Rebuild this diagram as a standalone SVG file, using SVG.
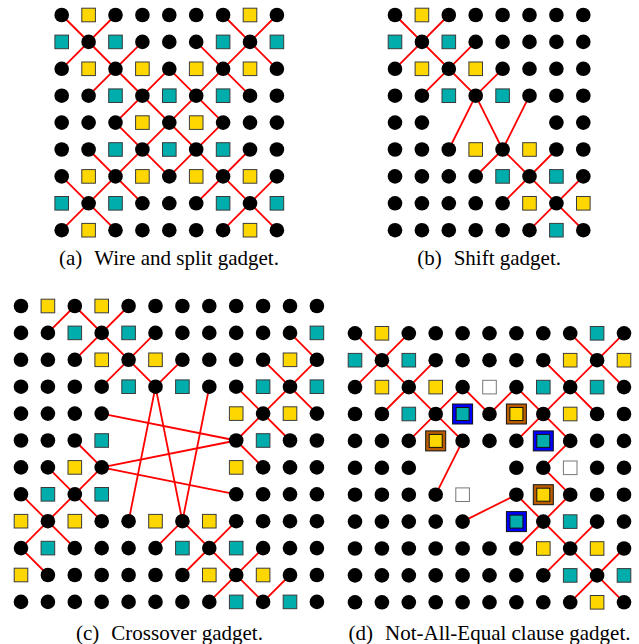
<svg xmlns="http://www.w3.org/2000/svg" xmlns:xlink="http://www.w3.org/1999/xlink" width="639" height="644" viewBox="0 0 639 644">
<style>
.e{stroke:#FF0000;stroke-width:1.8;fill:none;stroke-linecap:round;stroke-linejoin:round}
.cap{font-family:"Liberation Serif","Times New Roman",serif;font-size:21px;fill:#000}
</style>
<defs>
<circle id="D" r="7.3" fill="#000"/>
<rect id="Y" x="-6.8" y="-6.8" width="13.6" height="13.6" fill="#FFD700" stroke="#3a3a3a" stroke-width="1"/>
<rect id="T" x="-6.8" y="-6.8" width="13.6" height="13.6" fill="#00ADAD" stroke="#3a3a3a" stroke-width="1"/>
<rect id="W" x="-6.8" y="-6.8" width="13.6" height="13.6" fill="#FFFFFF" stroke="#777" stroke-width="1"/>
<g id="BT"><rect x="-10" y="-10" width="20" height="20" fill="#0000FF" stroke="#111" stroke-width="1"/><rect x="-6.5" y="-6.5" width="13" height="13" fill="#00ADAD" stroke="#111" stroke-width="1"/></g>
<g id="BY"><rect x="-10" y="-10" width="20" height="20" fill="#B85C00" stroke="#111" stroke-width="1"/><rect x="-6.5" y="-6.5" width="13" height="13" fill="#FFD700" stroke="#111" stroke-width="1"/></g>
</defs>
<rect width="639" height="644" fill="#fff"/>

<!-- Panel (a) -->
<g id="panel-a" transform="translate(61.7,15)">
<g id="a-connectors" class="e">
<line x1="0" y1="0" x2="215.2" y2="215.2"/>
<line x1="215.2" y1="0" x2="0" y2="215.2"/>
<line x1="53.8" y1="0" x2="0" y2="53.8"/>
<line x1="80.7" y1="26.9" x2="26.9" y2="80.7"/>
<polygon points="107.6,53.8 53.8,107.6 107.6,161.4 161.4,107.6"/>
<line x1="134.5" y1="26.9" x2="188.3" y2="80.7"/>
<line x1="161.4" y1="0" x2="215.2" y2="53.8"/>
<line x1="26.9" y1="134.5" x2="80.7" y2="188.3"/>
<line x1="0" y1="161.4" x2="53.8" y2="215.2"/>
<line x1="134.5" y1="188.3" x2="188.3" y2="134.5"/>
<line x1="215.2" y1="161.4" x2="161.4" y2="215.2"/>
</g>
<g id="a-nodes">
<use href="#D" x="0" y="0"/><use href="#Y" x="26.9" y="0"/><use href="#D" x="53.8" y="0"/><use href="#D" x="80.7" y="0"/><use href="#D" x="107.6" y="0"/><use href="#D" x="134.5" y="0"/><use href="#D" x="161.4" y="0"/><use href="#Y" x="188.3" y="0"/><use href="#D" x="215.2" y="0"/>
<use href="#T" x="0" y="26.9"/><use href="#D" x="26.9" y="26.9"/><use href="#T" x="53.8" y="26.9"/><use href="#D" x="80.7" y="26.9"/><use href="#D" x="107.6" y="26.9"/><use href="#D" x="134.5" y="26.9"/><use href="#T" x="161.4" y="26.9"/><use href="#D" x="188.3" y="26.9"/><use href="#T" x="215.2" y="26.9"/>
<use href="#D" x="0" y="53.8"/><use href="#Y" x="26.9" y="53.8"/><use href="#D" x="53.8" y="53.8"/><use href="#Y" x="80.7" y="53.8"/><use href="#D" x="107.6" y="53.8"/><use href="#Y" x="134.5" y="53.8"/><use href="#D" x="161.4" y="53.8"/><use href="#Y" x="188.3" y="53.8"/><use href="#D" x="215.2" y="53.8"/>
<use href="#D" x="0" y="80.7"/><use href="#D" x="26.9" y="80.7"/><use href="#T" x="53.8" y="80.7"/><use href="#D" x="80.7" y="80.7"/><use href="#T" x="107.6" y="80.7"/><use href="#D" x="134.5" y="80.7"/><use href="#T" x="161.4" y="80.7"/><use href="#D" x="188.3" y="80.7"/><use href="#D" x="215.2" y="80.7"/>
<use href="#D" x="0" y="107.6"/><use href="#D" x="26.9" y="107.6"/><use href="#D" x="53.8" y="107.6"/><use href="#Y" x="80.7" y="107.6"/><use href="#D" x="107.6" y="107.6"/><use href="#Y" x="134.5" y="107.6"/><use href="#D" x="161.4" y="107.6"/><use href="#D" x="188.3" y="107.6"/><use href="#D" x="215.2" y="107.6"/>
<use href="#D" x="0" y="134.5"/><use href="#D" x="26.9" y="134.5"/><use href="#T" x="53.8" y="134.5"/><use href="#D" x="80.7" y="134.5"/><use href="#T" x="107.6" y="134.5"/><use href="#D" x="134.5" y="134.5"/><use href="#T" x="161.4" y="134.5"/><use href="#D" x="188.3" y="134.5"/><use href="#D" x="215.2" y="134.5"/>
<use href="#D" x="0" y="161.4"/><use href="#Y" x="26.9" y="161.4"/><use href="#D" x="53.8" y="161.4"/><use href="#Y" x="80.7" y="161.4"/><use href="#D" x="107.6" y="161.4"/><use href="#Y" x="134.5" y="161.4"/><use href="#D" x="161.4" y="161.4"/><use href="#Y" x="188.3" y="161.4"/><use href="#D" x="215.2" y="161.4"/>
<use href="#T" x="0" y="188.3"/><use href="#D" x="26.9" y="188.3"/><use href="#T" x="53.8" y="188.3"/><use href="#D" x="80.7" y="188.3"/><use href="#D" x="107.6" y="188.3"/><use href="#D" x="134.5" y="188.3"/><use href="#T" x="161.4" y="188.3"/><use href="#D" x="188.3" y="188.3"/><use href="#T" x="215.2" y="188.3"/>
<use href="#D" x="0" y="215.2"/><use href="#Y" x="26.9" y="215.2"/><use href="#D" x="53.8" y="215.2"/><use href="#D" x="80.7" y="215.2"/><use href="#D" x="107.6" y="215.2"/><use href="#D" x="134.5" y="215.2"/><use href="#D" x="161.4" y="215.2"/><use href="#Y" x="188.3" y="215.2"/><use href="#D" x="215.2" y="215.2"/>
</g>
</g>

<!-- Panel (b) -->
<g id="panel-b" transform="translate(395,15)">
<g id="b-connectors" class="e">
<line x1="0" y1="0" x2="80.7" y2="80.7"/>
<line x1="53.8" y1="0" x2="0" y2="53.8"/>
<line x1="80.7" y1="26.9" x2="26.9" y2="80.7"/>
<line x1="107.6" y1="53.8" x2="80.7" y2="80.7"/>
<line x1="80.7" y1="80.7" x2="53.8" y2="134.5"/>
<line x1="80.7" y1="80.7" x2="107.6" y2="134.5"/>
<line x1="134.5" y1="80.7" x2="107.6" y2="134.5"/>
<line x1="107.6" y1="134.5" x2="188.3" y2="215.2"/>
<line x1="161.4" y1="134.5" x2="107.6" y2="188.3"/>
<line x1="80.7" y1="161.4" x2="107.6" y2="134.5"/>
<line x1="188.3" y1="161.4" x2="134.5" y2="215.2"/>
</g>
<g id="b-nodes">
<use href="#D" x="0" y="0"/><use href="#Y" x="26.9" y="0"/><use href="#D" x="53.8" y="0"/><use href="#D" x="80.7" y="0"/><use href="#D" x="107.6" y="0"/><use href="#D" x="134.5" y="0"/><use href="#D" x="161.4" y="0"/><use href="#D" x="188.3" y="0"/>
<use href="#T" x="0" y="26.9"/><use href="#D" x="26.9" y="26.9"/><use href="#T" x="53.8" y="26.9"/><use href="#D" x="80.7" y="26.9"/><use href="#D" x="107.6" y="26.9"/><use href="#D" x="134.5" y="26.9"/><use href="#D" x="161.4" y="26.9"/><use href="#D" x="188.3" y="26.9"/>
<use href="#D" x="0" y="53.8"/><use href="#Y" x="26.9" y="53.8"/><use href="#D" x="53.8" y="53.8"/><use href="#Y" x="80.7" y="53.8"/><use href="#D" x="107.6" y="53.8"/><use href="#D" x="134.5" y="53.8"/><use href="#D" x="161.4" y="53.8"/><use href="#D" x="188.3" y="53.8"/>
<use href="#D" x="0" y="80.7"/><use href="#D" x="26.9" y="80.7"/><use href="#T" x="53.8" y="80.7"/><use href="#D" x="80.7" y="80.7"/><use href="#T" x="107.6" y="80.7"/><use href="#D" x="134.5" y="80.7"/><use href="#D" x="161.4" y="80.7"/><use href="#D" x="188.3" y="80.7"/>
<use href="#D" x="0" y="107.6"/><use href="#D" x="26.9" y="107.6"/><use href="#D" x="161.4" y="107.6"/><use href="#D" x="188.3" y="107.6"/>
<use href="#D" x="0" y="134.5"/><use href="#D" x="26.9" y="134.5"/><use href="#D" x="53.8" y="134.5"/><use href="#Y" x="80.7" y="134.5"/><use href="#D" x="107.6" y="134.5"/><use href="#Y" x="134.5" y="134.5"/><use href="#D" x="161.4" y="134.5"/><use href="#D" x="188.3" y="134.5"/>
<use href="#D" x="0" y="161.4"/><use href="#D" x="26.9" y="161.4"/><use href="#D" x="53.8" y="161.4"/><use href="#D" x="80.7" y="161.4"/><use href="#T" x="107.6" y="161.4"/><use href="#D" x="134.5" y="161.4"/><use href="#T" x="161.4" y="161.4"/><use href="#D" x="188.3" y="161.4"/>
<use href="#D" x="0" y="188.3"/><use href="#D" x="26.9" y="188.3"/><use href="#D" x="53.8" y="188.3"/><use href="#D" x="80.7" y="188.3"/><use href="#D" x="107.6" y="188.3"/><use href="#Y" x="134.5" y="188.3"/><use href="#D" x="161.4" y="188.3"/><use href="#Y" x="188.3" y="188.3"/>
<use href="#D" x="0" y="215.2"/><use href="#D" x="26.9" y="215.2"/><use href="#D" x="53.8" y="215.2"/><use href="#D" x="80.7" y="215.2"/><use href="#D" x="107.6" y="215.2"/><use href="#D" x="134.5" y="215.2"/><use href="#T" x="161.4" y="215.2"/><use href="#D" x="188.3" y="215.2"/>
</g>
</g>

<!-- Panel (c) -->
<g id="panel-c" transform="translate(21,306)">
<g id="c-connectors" class="e">
<line x1="26.9" y1="26.9" x2="53.8" y2="0"/>
<line x1="53.8" y1="0" x2="134.5" y2="80.7"/>
<line x1="107.6" y1="0" x2="53.8" y2="53.8"/>
<line x1="134.5" y1="26.9" x2="80.7" y2="80.7"/>
<line x1="161.4" y1="53.8" x2="134.5" y2="80.7"/>
<line x1="134.5" y1="80.7" x2="161.4" y2="215.2"/>
<line x1="134.5" y1="80.7" x2="107.6" y2="215.2"/>
<line x1="188.3" y1="80.7" x2="161.4" y2="215.2"/>
<line x1="80.7" y1="107.6" x2="215.2" y2="134.5"/>
<line x1="80.7" y1="161.4" x2="215.2" y2="134.5"/>
<line x1="80.7" y1="161.4" x2="215.2" y2="188.3"/>
<line x1="53.8" y1="134.5" x2="80.7" y2="161.4"/>
<line x1="80.7" y1="161.4" x2="0" y2="242.1"/>
<line x1="26.9" y1="161.4" x2="80.7" y2="215.2"/>
<line x1="0" y1="188.3" x2="53.8" y2="242.1"/>
<line x1="0" y1="242.1" x2="26.9" y2="269"/>
<line x1="269" y1="26.9" x2="295.9" y2="53.8"/>
<line x1="295.9" y1="53.8" x2="215.2" y2="134.5"/>
<line x1="242.1" y1="53.8" x2="295.9" y2="107.6"/>
<line x1="215.2" y1="80.7" x2="269" y2="134.5"/>
<line x1="215.2" y1="134.5" x2="242.1" y2="161.4"/>
<line x1="161.4" y1="215.2" x2="134.5" y2="242.1"/>
<line x1="161.4" y1="215.2" x2="242.1" y2="295.9"/>
<line x1="215.2" y1="215.2" x2="161.4" y2="269"/>
<line x1="242.1" y1="242.1" x2="188.3" y2="295.9"/>
<line x1="242.1" y1="295.9" x2="269" y2="269"/>
</g>
<g id="c-nodes">
<use href="#D" x="0" y="0"/><use href="#Y" x="26.9" y="0"/><use href="#D" x="53.8" y="0"/><use href="#Y" x="80.7" y="0"/><use href="#D" x="107.6" y="0"/><use href="#D" x="134.5" y="0"/><use href="#D" x="161.4" y="0"/><use href="#D" x="188.3" y="0"/><use href="#D" x="215.2" y="0"/><use href="#D" x="242.1" y="0"/><use href="#D" x="269" y="0"/><use href="#D" x="295.9" y="0"/>
<use href="#D" x="0" y="26.9"/><use href="#D" x="26.9" y="26.9"/><use href="#T" x="53.8" y="26.9"/><use href="#D" x="80.7" y="26.9"/><use href="#T" x="107.6" y="26.9"/><use href="#D" x="134.5" y="26.9"/><use href="#D" x="161.4" y="26.9"/><use href="#D" x="188.3" y="26.9"/><use href="#D" x="215.2" y="26.9"/><use href="#D" x="242.1" y="26.9"/><use href="#D" x="269" y="26.9"/><use href="#T" x="295.9" y="26.9"/>
<use href="#D" x="0" y="53.8"/><use href="#D" x="26.9" y="53.8"/><use href="#D" x="53.8" y="53.8"/><use href="#Y" x="80.7" y="53.8"/><use href="#D" x="107.6" y="53.8"/><use href="#Y" x="134.5" y="53.8"/><use href="#D" x="161.4" y="53.8"/><use href="#D" x="188.3" y="53.8"/><use href="#D" x="215.2" y="53.8"/><use href="#D" x="242.1" y="53.8"/><use href="#Y" x="269" y="53.8"/><use href="#D" x="295.9" y="53.8"/>
<use href="#D" x="0" y="80.7"/><use href="#D" x="26.9" y="80.7"/><use href="#D" x="53.8" y="80.7"/><use href="#D" x="80.7" y="80.7"/><use href="#T" x="107.6" y="80.7"/><use href="#D" x="134.5" y="80.7"/><use href="#T" x="161.4" y="80.7"/><use href="#D" x="188.3" y="80.7"/><use href="#D" x="215.2" y="80.7"/><use href="#T" x="242.1" y="80.7"/><use href="#D" x="269" y="80.7"/><use href="#T" x="295.9" y="80.7"/>
<use href="#D" x="0" y="107.6"/><use href="#D" x="26.9" y="107.6"/><use href="#D" x="53.8" y="107.6"/><use href="#D" x="80.7" y="107.6"/><use href="#Y" x="215.2" y="107.6"/><use href="#D" x="242.1" y="107.6"/><use href="#Y" x="269" y="107.6"/><use href="#D" x="295.9" y="107.6"/>
<use href="#D" x="0" y="134.5"/><use href="#D" x="26.9" y="134.5"/><use href="#D" x="53.8" y="134.5"/><use href="#T" x="80.7" y="134.5"/><use href="#D" x="215.2" y="134.5"/><use href="#T" x="242.1" y="134.5"/><use href="#D" x="269" y="134.5"/><use href="#D" x="295.9" y="134.5"/>
<use href="#D" x="0" y="161.4"/><use href="#D" x="26.9" y="161.4"/><use href="#Y" x="53.8" y="161.4"/><use href="#D" x="80.7" y="161.4"/><use href="#Y" x="215.2" y="161.4"/><use href="#D" x="242.1" y="161.4"/><use href="#D" x="269" y="161.4"/><use href="#D" x="295.9" y="161.4"/>
<use href="#D" x="0" y="188.3"/><use href="#T" x="26.9" y="188.3"/><use href="#D" x="53.8" y="188.3"/><use href="#T" x="80.7" y="188.3"/><use href="#D" x="215.2" y="188.3"/><use href="#D" x="242.1" y="188.3"/><use href="#D" x="269" y="188.3"/><use href="#D" x="295.9" y="188.3"/>
<use href="#Y" x="0" y="215.2"/><use href="#D" x="26.9" y="215.2"/><use href="#Y" x="53.8" y="215.2"/><use href="#D" x="80.7" y="215.2"/><use href="#D" x="107.6" y="215.2"/><use href="#Y" x="134.5" y="215.2"/><use href="#D" x="161.4" y="215.2"/><use href="#Y" x="188.3" y="215.2"/><use href="#D" x="215.2" y="215.2"/><use href="#D" x="242.1" y="215.2"/><use href="#D" x="269" y="215.2"/><use href="#D" x="295.9" y="215.2"/>
<use href="#D" x="0" y="242.1"/><use href="#T" x="26.9" y="242.1"/><use href="#D" x="53.8" y="242.1"/><use href="#D" x="80.7" y="242.1"/><use href="#D" x="107.6" y="242.1"/><use href="#D" x="134.5" y="242.1"/><use href="#T" x="161.4" y="242.1"/><use href="#D" x="188.3" y="242.1"/><use href="#T" x="215.2" y="242.1"/><use href="#D" x="242.1" y="242.1"/><use href="#D" x="269" y="242.1"/><use href="#D" x="295.9" y="242.1"/>
<use href="#Y" x="0" y="269"/><use href="#D" x="26.9" y="269"/><use href="#D" x="53.8" y="269"/><use href="#D" x="80.7" y="269"/><use href="#D" x="107.6" y="269"/><use href="#D" x="134.5" y="269"/><use href="#D" x="161.4" y="269"/><use href="#Y" x="188.3" y="269"/><use href="#D" x="215.2" y="269"/><use href="#Y" x="242.1" y="269"/><use href="#D" x="269" y="269"/><use href="#D" x="295.9" y="269"/>
<use href="#D" x="0" y="295.9"/><use href="#D" x="26.9" y="295.9"/><use href="#D" x="53.8" y="295.9"/><use href="#D" x="80.7" y="295.9"/><use href="#D" x="107.6" y="295.9"/><use href="#D" x="134.5" y="295.9"/><use href="#D" x="161.4" y="295.9"/><use href="#D" x="188.3" y="295.9"/><use href="#T" x="215.2" y="295.9"/><use href="#D" x="242.1" y="295.9"/><use href="#T" x="269" y="295.9"/><use href="#D" x="295.9" y="295.9"/>
</g>
</g>

<!-- Panel (d) -->
<g id="panel-d" transform="translate(355,333.3)">
<g id="d-connectors" class="e">
<line x1="0" y1="0" x2="107.6" y2="107.6"/>
<line x1="53.8" y1="0" x2="0" y2="53.8"/>
<line x1="80.7" y1="26.9" x2="26.9" y2="80.7"/>
<line x1="107.6" y1="53.8" x2="53.8" y2="107.6"/>
<polyline points="107.6,53.8 134.5,80.7 161.4,53.8"/>
<line x1="161.4" y1="53.8" x2="215.2" y2="107.6"/>
<line x1="161.4" y1="107.6" x2="269" y2="0"/>
<line x1="215.2" y1="0" x2="269" y2="53.8"/>
<line x1="188.3" y1="26.9" x2="242.1" y2="80.7"/>
<line x1="107.6" y1="107.6" x2="80.7" y2="161.4"/>
<polyline points="215.2,107.6 188.3,134.5 215.2,161.4"/>
<line x1="215.2" y1="161.4" x2="161.4" y2="215.2"/>
<line x1="161.4" y1="161.4" x2="269" y2="269"/>
<line x1="161.4" y1="161.4" x2="107.6" y2="188.3"/>
<line x1="242.1" y1="188.3" x2="188.3" y2="242.1"/>
<line x1="269" y1="215.2" x2="215.2" y2="269"/>
</g>
<g id="d-nodes">
<use href="#D" x="0" y="0"/><use href="#Y" x="26.9" y="0"/><use href="#D" x="53.8" y="0"/><use href="#D" x="80.7" y="0"/><use href="#D" x="107.6" y="0"/><use href="#D" x="134.5" y="0"/><use href="#D" x="161.4" y="0"/><use href="#D" x="188.3" y="0"/><use href="#D" x="215.2" y="0"/><use href="#T" x="242.1" y="0"/><use href="#D" x="269" y="0"/>
<use href="#T" x="0" y="26.9"/><use href="#D" x="26.9" y="26.9"/><use href="#T" x="53.8" y="26.9"/><use href="#D" x="80.7" y="26.9"/><use href="#D" x="107.6" y="26.9"/><use href="#D" x="134.5" y="26.9"/><use href="#D" x="161.4" y="26.9"/><use href="#D" x="188.3" y="26.9"/><use href="#Y" x="215.2" y="26.9"/><use href="#D" x="242.1" y="26.9"/><use href="#Y" x="269" y="26.9"/>
<use href="#D" x="0" y="53.8"/><use href="#Y" x="26.9" y="53.8"/><use href="#D" x="53.8" y="53.8"/><use href="#Y" x="80.7" y="53.8"/><use href="#D" x="107.6" y="53.8"/><use href="#W" x="134.5" y="53.8"/><use href="#D" x="161.4" y="53.8"/><use href="#T" x="188.3" y="53.8"/><use href="#D" x="215.2" y="53.8"/><use href="#T" x="242.1" y="53.8"/><use href="#D" x="269" y="53.8"/>
<use href="#D" x="0" y="80.7"/><use href="#D" x="26.9" y="80.7"/><use href="#T" x="53.8" y="80.7"/><use href="#D" x="80.7" y="80.7"/><use href="#BT" x="107.6" y="80.7"/><use href="#D" x="134.5" y="80.7"/><use href="#BY" x="161.4" y="80.7"/><use href="#D" x="188.3" y="80.7"/><use href="#Y" x="215.2" y="80.7"/><use href="#D" x="242.1" y="80.7"/><use href="#D" x="269" y="80.7"/>
<use href="#D" x="0" y="107.6"/><use href="#D" x="26.9" y="107.6"/><use href="#D" x="53.8" y="107.6"/><use href="#BY" x="80.7" y="107.6"/><use href="#D" x="107.6" y="107.6"/><use href="#D" x="134.5" y="107.6"/><use href="#D" x="161.4" y="107.6"/><use href="#BT" x="188.3" y="107.6"/><use href="#D" x="215.2" y="107.6"/><use href="#D" x="242.1" y="107.6"/><use href="#D" x="269" y="107.6"/>
<use href="#D" x="0" y="134.5"/><use href="#D" x="26.9" y="134.5"/><use href="#D" x="53.8" y="134.5"/><use href="#D" x="161.4" y="134.5"/><use href="#D" x="188.3" y="134.5"/><use href="#W" x="215.2" y="134.5"/><use href="#D" x="242.1" y="134.5"/><use href="#D" x="269" y="134.5"/>
<use href="#D" x="0" y="161.4"/><use href="#D" x="26.9" y="161.4"/><use href="#D" x="53.8" y="161.4"/><use href="#D" x="80.7" y="161.4"/><use href="#W" x="107.6" y="161.4"/><use href="#D" x="161.4" y="161.4"/><use href="#BY" x="188.3" y="161.4"/><use href="#D" x="215.2" y="161.4"/><use href="#D" x="242.1" y="161.4"/><use href="#D" x="269" y="161.4"/>
<use href="#D" x="0" y="188.3"/><use href="#D" x="26.9" y="188.3"/><use href="#D" x="53.8" y="188.3"/><use href="#D" x="80.7" y="188.3"/><use href="#D" x="107.6" y="188.3"/><use href="#BT" x="161.4" y="188.3"/><use href="#D" x="188.3" y="188.3"/><use href="#T" x="215.2" y="188.3"/><use href="#D" x="242.1" y="188.3"/><use href="#D" x="269" y="188.3"/>
<use href="#D" x="0" y="215.2"/><use href="#D" x="26.9" y="215.2"/><use href="#D" x="53.8" y="215.2"/><use href="#D" x="80.7" y="215.2"/><use href="#D" x="107.6" y="215.2"/><use href="#D" x="134.5" y="215.2"/><use href="#D" x="161.4" y="215.2"/><use href="#Y" x="188.3" y="215.2"/><use href="#D" x="215.2" y="215.2"/><use href="#Y" x="242.1" y="215.2"/><use href="#D" x="269" y="215.2"/>
<use href="#D" x="0" y="242.1"/><use href="#D" x="26.9" y="242.1"/><use href="#D" x="53.8" y="242.1"/><use href="#D" x="80.7" y="242.1"/><use href="#D" x="107.6" y="242.1"/><use href="#D" x="134.5" y="242.1"/><use href="#D" x="161.4" y="242.1"/><use href="#D" x="188.3" y="242.1"/><use href="#T" x="215.2" y="242.1"/><use href="#D" x="242.1" y="242.1"/><use href="#T" x="269" y="242.1"/>
<use href="#D" x="0" y="269"/><use href="#D" x="26.9" y="269"/><use href="#D" x="53.8" y="269"/><use href="#D" x="80.7" y="269"/><use href="#D" x="107.6" y="269"/><use href="#D" x="134.5" y="269"/><use href="#D" x="161.4" y="269"/><use href="#D" x="188.3" y="269"/><use href="#D" x="215.2" y="269"/><use href="#Y" x="242.1" y="269"/><use href="#D" x="269" y="269"/>
</g>
</g>

<g id="captions" class="cap">
<text x="59" y="265">(a)<tspan x="94.3">Wire and split gadget.</tspan></text>
<text x="417.2" y="265">(b)<tspan x="453.7">Shift gadget.</tspan></text>
<text x="76" y="640">(c)<tspan x="111.3">Crossover gadget.</tspan></text>
<text x="348.5" y="640">(d)<tspan x="385">Not-All-Equal clause gadget.</tspan></text>
</g>
</svg>
